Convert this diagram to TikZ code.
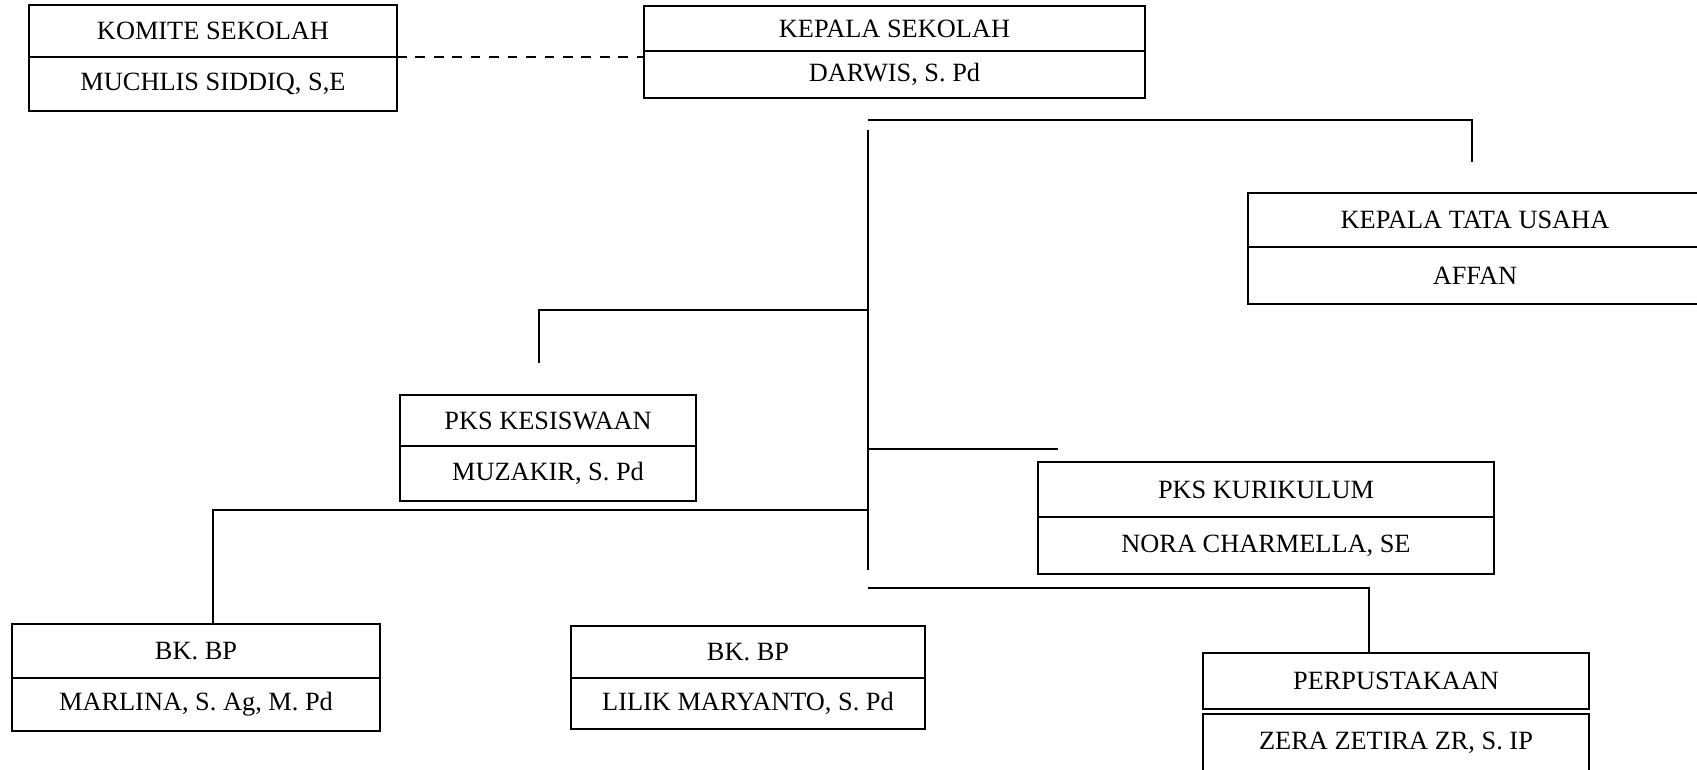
\documentclass[tikz,border=0pt]{standalone}
\usepackage{fontspec}
\setmainfont{Liberation Serif}
\usetikzlibrary{positioning}
\tikzset{
	jabatan/.style={draw, line width=1.5pt, inner sep=0pt, outer sep=0pt, font=\fontsize{15}{18}\selectfont},
	nama/.style={jabatan},
	garis/.style={line width=1.4pt}
}

\begin{document}
\begin{tikzpicture}[x=0.02cm, y=-0.02cm]
		%%%%% START %%%%%
		\useasboundingbox (0, 0) rectangle (1697, 769);
		
		\node[jabatan, minimum width=7.36cm, minimum height=1.04cm] (komite) at (213, 31) {KOMITE SEKOLAH};
		\node[nama, minimum width=7.36cm, minimum height=1.08cm, below=0pt of komite] (komiteNama) {MUCHLIS SIDDIQ, S,E};
		
		\node[jabatan, minimum width=10.02cm, minimum height=0.90cm] (kepsek) at (894.5, 28.5) {KEPALA SEKOLAH};
		\node[nama, minimum width=10.02cm, minimum height=0.94cm, below=0pt of kepsek] (kepsekNama) {DARWIS, S. Pd};
		
		\node[jabatan, minimum width=9.08cm, minimum height=1.08cm] (tu) at (1475, 220) {KEPALA TATA USAHA};
		\node[nama, minimum width=9.08cm, minimum height=1.14cm, below=0pt of tu] (tuNama) {AFFAN};
		
		\node[jabatan, minimum width=5.92cm, minimum height=1.02cm] (kesiswaan) at (548, 420.5) {PKS KESISWAAN};
		\node[nama, minimum width=5.92cm, minimum height=1.10cm, below=0pt of kesiswaan] (kesiswaanNama) {MUZAKIR, S. Pd};
		
		\node[jabatan, minimum width=9.12cm, minimum height=1.10cm] (kurikulum) at (1266, 489.5) {PKS KURIKULUM};
		\node[nama, minimum width=9.12cm, minimum height=1.14cm, below=0pt of kurikulum] (kurikulumNama) {NORA CHARMELLA, SE};
		
		\node[jabatan, minimum width=7.36cm, minimum height=1.08cm] (bkKiri) at (196, 651) {BK. BP};
		\node[nama, minimum width=7.36cm, minimum height=1.06cm, below=0pt of bkKiri] (bkKiriNama) {MARLINA, S. Ag, M. Pd};
		
		\node[jabatan, minimum width=7.08cm, minimum height=1.04cm] (bkTengah) at (748, 652) {BK. BP};
		\node[nama, minimum width=7.08cm, minimum height=1.02cm, below=0pt of bkTengah] (bkTengahNama) {LILIK MARYANTO, S. Pd};
		
		\node[jabatan, minimum width=7.72cm, minimum height=1.12cm] (perpus) at (1396, 681) {PERPUSTAKAAN};
		\node[nama, minimum width=7.72cm, minimum height=1.16cm, below=0.1cm of perpus] (perpusNama) {ZERA ZETIRA ZR, S. IP};
		
		% garis komando
		\draw[garis, dash pattern=on 5.5pt off 5pt] (komite.south east) -- (komite.south east -| kepsek.west);
		
		\coordinate (atas) at (868, 130);
		\coordinate (bawah) at (868, 570);
		\draw[garis] (atas) -- (bawah);
		
		\coordinate (tuCabang) at (868, 120);
		\coordinate (tuUjung) at (1472, 162);
		\draw[garis] (tuCabang) -| (tuUjung);
		
		\coordinate (kesCabang) at (868, 310);
		\coordinate (kesUjung) at (539, 363);
		\draw[garis] (kesCabang) -| (kesUjung);
		
		\coordinate (kurCabang) at (868, 449);
		\coordinate (kurUjung) at (1058, 449);
		\draw[garis] (kurCabang) -- (kurUjung);
		
		\coordinate (bkCabang) at (868, 510);
		\coordinate (bkBelok) at (213, 510);
		\draw[garis] (bkCabang) -- (bkBelok) -- (bkBelok |- bkKiri.north);
		
		\coordinate (perCabang) at (868, 588);
		\coordinate (perBelok) at (1369, 588);
		\draw[garis] (perCabang) -- (perBelok) -- (perBelok |- perpus.north);
		
		%%%%% END %%%%%
	\end{tikzpicture}
\end{document}
